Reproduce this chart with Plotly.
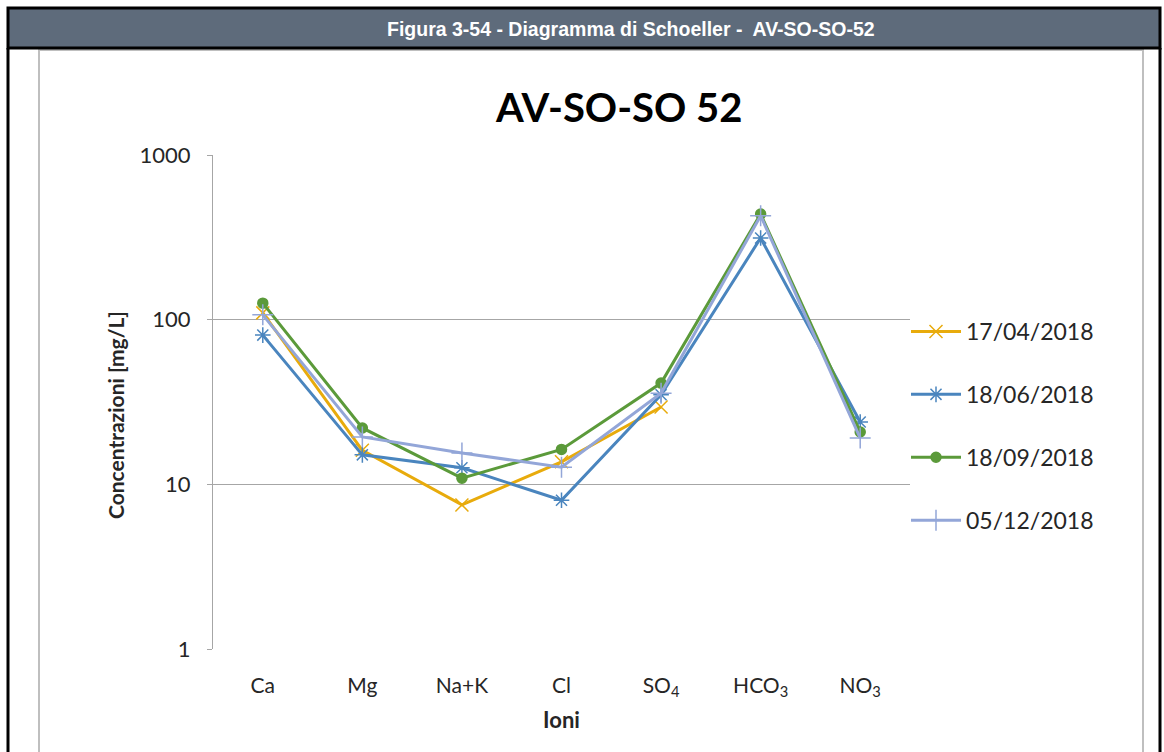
import plotly.graph_objects as go

# dati (mg/L)
ioni = ['Ca', 'Mg', 'Na+K', 'Cl', 'SO<sub>4</sub>', 'HCO<sub>3</sub>', 'NO<sub>3</sub>']
date = ['17/04/2018', '18/06/2018', '18/09/2018', '05/12/2018']
v_1704 = [110, 16.1, 7.5, 13.7, 29.5, None, None]
v_1806 = [80.6, 15.1, 12.6, 8.0, 35, 313, 23.9]
v_1809 = [126, 22, 10.9, 16.3, 41.2, 438, 20.8]
v_0512 = [107, 19.4, 15.5, 12.7, 35.8, 428, 19.1]

valori = [v_1704, v_1806, v_1809, v_0512]
colori = ['#E8AB0C', '#4A85BE', '#5B9A3A', '#93A6D8']
simboli = ['x-thin-open', 'asterisk-open', 'circle', 'cross-thin-open']
dim = [13, 13, 10, 15]

W, H = 1164, 752
def px(x):
    return x / W
def py(y):
    return 1 - y / H

fig = go.Figure()
for d, v, c, s, sz in zip(date, valori, colori, simboli, dim):
    fig.add_trace(go.Scatter(
        x=ioni, y=v, name=d, legendgroup=d,
        mode='lines+markers',
        line=dict(color=c, width=3),
        marker=dict(symbol=s, size=sz, color=c, line=dict(color=c, width=1.5)),
    ))

fig.update_layout(
    width=W, height=H,
    margin=dict(l=0, r=0, t=0, b=0, autoexpand=False),
    paper_bgcolor='white', plot_bgcolor='white',
    font=dict(family='Lato', color='#262626'),
    showlegend=True,
    legend=dict(x=px(906), y=py(310), xanchor='left', yanchor='top',
                font=dict(size=23, color='#262626'), itemwidth=50,
                tracegroupgap=30, bgcolor='rgba(0,0,0,0)'),
    xaxis=dict(domain=[px(213), px(910)], type='category', range=[-0.5, 6.5],
               automargin=False,
               showgrid=False, showline=False, zeroline=False,
               tickfont=dict(size=21), ticklabelstandoff=22,
               title=dict(text='<b>Ioni</b>', font=dict(size=22), standoff=13)),
    yaxis=dict(domain=[py(649), py(155)], type='log', range=[0, 3],
               automargin=False,
               tickvals=[1, 10, 100, 1000], ticktext=['1', '10', '100', '1000'],
               showgrid=True, gridcolor='#A6A6A6', gridwidth=1,
               showline=True, linecolor='#A6A6A6', linewidth=1,
               ticks='outside', ticklen=5, tickcolor='#A6A6A6',
               tickfont=dict(size=22), ticklabelstandoff=12),
)

# titolo asse y (Excel lo centra un po' più in basso del riquadro)
fig.add_annotation(xref='paper', yref='paper', x=px(115), y=py(415), showarrow=False,
                   xanchor='center', yanchor='middle', textangle=-90,
                   text='<b>Concentrazioni [mg/L]</b>',
                   font=dict(family='Lato', size=21, color='#262626'))

# cornice, intestazione e titolo
fig.add_shape(type='rect', xref='paper', yref='paper', x0=px(39), x1=px(1143), y0=py(770), y1=py(50),
              line=dict(color='#BFBFBF', width=2), fillcolor='rgba(0,0,0,0)', layer='below')
fig.add_shape(type='rect', xref='paper', yref='paper', x0=px(8), x1=px(1160), y0=py(48), y1=py(8),
              line=dict(color='black', width=3), fillcolor='#5E6B7B', layer='below')
fig.add_shape(type='line', xref='paper', yref='paper', x0=px(8), x1=px(8), y0=py(48), y1=py(770),
              line=dict(color='black', width=3))
fig.add_shape(type='line', xref='paper', yref='paper', x0=px(1160), x1=px(1160), y0=py(48), y1=py(770),
              line=dict(color='black', width=3))

fig.add_annotation(xref='paper', yref='paper', x=px(631), y=py(29), showarrow=False,
                   xanchor='center', yanchor='middle',
                   text='<b>Figura 3-54 - Diagramma di Schoeller -  AV-SO-SO-52</b>',
                   font=dict(family='Liberation Sans Narrow, Arial', size=19.5, color='white'))
fig.add_annotation(xref='paper', yref='paper', x=px(618), y=py(107), showarrow=False,
                   xanchor='center', yanchor='middle',
                   text='<b>AV-SO-SO 52</b>',
                   font=dict(family='Lato', size=40, color='black'))

fig.write_html("out.html", config={'displayModeBar': False},
               post_script="document.body.style.margin='0';")
